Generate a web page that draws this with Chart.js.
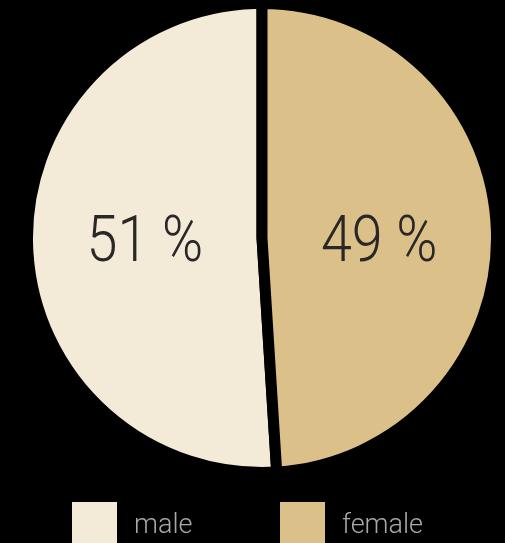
<!DOCTYPE html>
<html>
<head>
<meta charset="utf-8">
<script src="https://cdn.jsdelivr.net/npm/chart.js@4/dist/chart.umd.min.js"></script>
<style>
  html, body { margin: 0; padding: 0; background: #000; overflow: hidden; }
  #wrap { position: relative; width: 505px; height: 543px; }
  #c { position: absolute; left: 0; top: 0; }
  #legend { position: absolute; left: 72px; top: 502px; display: flex; margin: 0; padding: 0; list-style: none; }
  #legend li { display: flex; align-items: flex-start; width: 208px; }
  #legend .box { width: 45px; height: 45px; flex: none; }
  #legend .txt { margin-left: 17px; font-family: Roboto, sans-serif; font-weight: 300; font-size: 27px; line-height: 44px; color: #a8a8a8; white-space: nowrap; }
</style>
</head>
<body>
<div id="wrap">
  <canvas id="c" width="505" height="543"></canvas>
  <ul id="legend"></ul>
</div>
<script>
const categories = ['male', 'female'];
const shares = [51, 49];
const sliceColors = ['#F3EAD7', '#DBC189'];

const total = shares.reduce((a, b) => a + b, 0);
// male slice starts where the female slice (drawn from 12 o'clock) ends
const startRotation = 360 * shares[1] / total;

const sliceLabels = {
  id: 'sliceLabels',
  afterDatasetsDraw(chart) {
    const ctx = chart.ctx;
    const meta = chart.getDatasetMeta(0);
    const fontSize = 64;
    ctx.save();
    ctx.fillStyle = '#2A2727';
    ctx.font = '300 ' + fontSize + 'px Roboto, sans-serif';
    ctx.textAlign = 'center';
    ctx.textBaseline = 'alphabetic';
    meta.data.forEach((arc, i) => {
      const p = arc.getCenterPoint();
      ctx.save();
      ctx.translate(p.x, arc.y + fontSize * 0.365);
      ctx.scale(0.87, 1);
      ctx.fillText(chart.data.datasets[0].data[i] + ' %', 0, 0);
      ctx.restore();
    });
    ctx.restore();
  }
};

const htmlLegend = {
  id: 'htmlLegend',
  afterUpdate(chart) {
    const ul = document.getElementById('legend');
    ul.innerHTML = '';
    const items = chart.options.plugins.legend.labels.generateLabels(chart);
    items.forEach(item => {
      const li = document.createElement('li');
      const box = document.createElement('span');
      box.className = 'box';
      box.style.background = item.fillStyle;
      const txt = document.createElement('span');
      txt.className = 'txt';
      txt.textContent = item.text;
      li.appendChild(box);
      li.appendChild(txt);
      ul.appendChild(li);
    });
  }
};

new Chart(document.getElementById('c'), {
  type: 'pie',
  data: {
    labels: categories,
    datasets: [{
      data: shares,
      backgroundColor: sliceColors,
      borderColor: '#000000',
      borderWidth: 11,
      radius: 234.5
    }]
  },
  options: {
    responsive: false,
    animation: false,
    events: [],
    rotation: startRotation,
    layout: { padding: { left: 19, right: 0, top: 0, bottom: 67 } },
    plugins: {
      legend: { display: false },
      tooltip: { enabled: false }
    }
  },
  plugins: [sliceLabels, htmlLegend]
});
</script>
</body>
</html>
